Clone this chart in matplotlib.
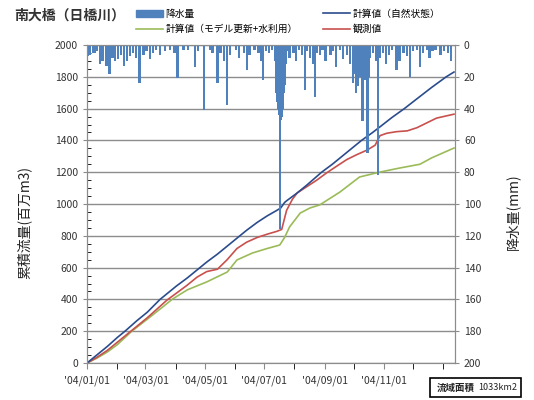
import matplotlib
matplotlib.use('Agg')
import matplotlib.pyplot as plt
import matplotlib.dates as mdates
from matplotlib.patches import Patch, Rectangle
from matplotlib.lines import Line2D
import pandas as pd

plt.rcParams['font.family'] = ['Noto Sans CJK JP', 'DejaVu Sans']

start = pd.Timestamp('2004-01-01')

# 累積流量 (百万m3), 日数は2004/1/1からの経過日
calc_nat_day = [0, 10, 21, 31, 39, 51, 62, 75, 82, 92, 103, 116, 123, 134, 144, 157, 164, 175,
                185, 195, 199, 203, 205, 216, 226, 241, 252, 262, 272, 282, 293, 303, 313, 326,
                339, 354, 369, 377]
calc_nat = [0, 50, 105, 160, 200, 265, 320, 400, 435, 485, 535, 600, 635, 685, 735, 800, 835, 885,
            925, 960, 975, 1010, 1020, 1070, 1120, 1200, 1250, 1300, 1350, 1400, 1448, 1495, 1543,
            1600, 1662, 1733, 1800, 1830]

obs_day = [0, 10, 21, 31, 41, 51, 62, 72, 82, 92, 103, 113, 123, 134, 144, 154, 164, 175, 185,
           195, 200, 205, 211, 216, 226, 236, 246, 257, 267, 277, 288, 296, 301, 308, 318, 329,
           339, 349, 359, 377]
obs = [0, 35, 80, 130, 180, 230, 285, 340, 395, 440, 490, 540, 575, 590, 650, 720, 760, 790, 810,
       828, 840, 960, 1030, 1070, 1110, 1150, 1195, 1240, 1280, 1310, 1340, 1370, 1430, 1445, 1455,
       1460, 1480, 1510, 1540, 1565]

calc_mod_day = [0, 10, 21, 31, 46, 67, 88, 103, 123, 144, 154, 170, 185, 198, 203, 208, 219, 229,
                239, 260, 280, 301, 321, 342, 354, 377]
calc_mod = [0, 30, 70, 115, 200, 300, 403, 460, 510, 572, 648, 692, 720, 742, 790, 855, 943, 975,
            994, 1076, 1170, 1201, 1226, 1250, 1290, 1352]

# 日降水量 (mm)
rain_day = [1, 3, 6, 8, 10, 13, 16, 20, 23, 26,
            29, 32, 35, 38, 41, 44, 47, 50, 54, 58,
            61, 65, 68, 71, 75, 80, 85, 90, 93, 99,
            104, 111, 114, 120, 126, 129, 134, 137, 141, 144,
            147, 153, 156, 161, 164, 167, 172, 176, 179, 181,
            184, 187, 190, 193, 194, 195, 196, 197, 198, 199,
            200, 201, 202, 203, 204, 205, 208, 212, 215, 218,
            221, 224, 226, 229, 232, 234, 236, 239, 242, 245,
            250, 253, 256, 260, 263, 267, 270, 273, 274, 276,
            278, 280, 283, 285, 288, 289, 291, 294, 297, 299,
            301, 304, 307, 310, 313, 318, 321, 325, 329, 332,
            335, 339, 342, 345, 349, 352, 355, 358, 363, 367,
            371, 374]
rain_mm = [7, 6, 5, 5, 4, 12, 10, 13, 18, 8,
           10, 9, 6, 13, 10, 7, 5, 8, 24, 6,
           4, 9, 5, 3, 6, 4, 3, 5, 21, 3,
           3, 14, 4, 41, 3, 5, 24, 5, 10, 38,
           6, 3, 8, 5, 16, 6, 3, 5, 10, 22,
           4, 5, 3, 10, 30, 36, 40, 44, 116, 47,
           45, 40, 30, 25, 12, 4, 8, 5, 10, 3,
           6, 28, 4, 8, 12, 33, 5, 6, 3, 10,
           6, 4, 14, 3, 9, 6, 12, 24, 18, 30,
           26, 20, 48, 22, 68, 20, 8, 5, 10, 82,
           8, 5, 12, 6, 3, 16, 10, 5, 7, 20,
           4, 3, 14, 5, 3, 8, 4, 3, 6, 4,
           5, 10]

to_dates = lambda days: [start + pd.Timedelta(days=d) for d in days]

fig = plt.figure(figsize=(5.34, 4.0), dpi=100)
ax = fig.add_axes([0.163, 0.0925, 0.689, 0.795])
ax2 = ax.twinx()

c_nat = '#2B4C8C'
c_obs = '#C8504D'
c_mod = '#9BBB59'
c_bar = '#4F81BD'

ax.plot(to_dates(calc_mod_day), calc_mod, color=c_mod, lw=1.2)
ax.plot(to_dates(obs_day), obs, color=c_obs, lw=1.2)
ax.plot(to_dates(calc_nat_day), calc_nat, color=c_nat, lw=1.2)

ax2.bar(to_dates(rain_day), rain_mm, width=2.4, color=c_bar, align='center')

# 軸の設定
ax.set_ylim(0, 2000)
ax.set_yticks(range(0, 2001, 200))
ax.set_yticks(range(0, 2001, 50), minor=True)
ax.set_xlim(start, pd.Timestamp('2005-01-13'))
ax.xaxis.set_major_locator(mdates.MonthLocator(bymonth=[1, 3, 5, 7, 9, 11]))
ax.xaxis.set_minor_locator(mdates.MonthLocator())
ax.xaxis.set_major_formatter(mdates.DateFormatter("'%y/%m/%d"))
ax.set_xticks([t for t in ax.get_xticks() if t < mdates.date2num(pd.Timestamp('2004-12-31'))])
ax.grid(axis='y', which='major', color='#8C8C8C', lw=1.0)
ax.set_axisbelow(True)

ax2.set_ylim(200, 0)
ax2.set_yticks(range(0, 201, 20))

for a in (ax, ax2):
    for s in a.spines.values():
        s.set_color('#8C8C8C')
    a.tick_params(labelsize=7.5, colors='#8C8C8C', labelcolor='#333333')

ax.tick_params(axis='x', which='both', direction='out', length=4, pad=5)
ax.tick_params(axis='y', which='major', direction='out', length=3)
ax.tick_params(axis='y', which='minor', direction='in', length=3)
ax2.tick_params(axis='y', direction='out', length=3)

ax.set_ylabel('累積流量(百万m3)', fontsize=10, color='#222222')
ax.yaxis.set_label_coords(-0.152, 0.443)
ax2.set_ylabel('降水量(mm)', fontsize=10, color='#222222')
ax2.yaxis.set_label_coords(1.136, 0.475)

fig.text(0.026, 0.962, '南大橋（日橋川）', fontsize=10, fontweight='bold', color='#333333',
         va='center')

# 凡例 (2列)
leg_kw = dict(loc='upper left', frameon=False, fontsize=7, handlelength=2.8,
              handletextpad=0.25, labelspacing=0.55, borderpad=0, borderaxespad=0)
leg1 = fig.legend([Patch(color=c_bar), Line2D([], [], color=c_mod, lw=1.2)],
                  ['降水量', '計算値（モデル更新+水利用）'],
                  bbox_to_anchor=(0.2547, 0.978), **leg_kw)
leg2 = fig.legend([Line2D([], [], color=c_nat, lw=1.2), Line2D([], [], color=c_obs, lw=1.2)],
                  ['計算値（自然状態）', '観測値'],
                  bbox_to_anchor=(0.605, 0.978), **leg_kw)

# 流域面積の枠
fig.patches.append(Rectangle((0.805, 0.0075), 0.17, 0.0475, transform=fig.transFigure,
                             fc='white', ec='black', lw=1.2))
fig.text(0.817, 0.031, '流域面積', fontsize=6.8, fontweight='bold', va='center', color='#222222')
fig.text(0.895, 0.031, '1033km2', fontsize=6.5, va='center', color='#222222')

fig.savefig('out.png', dpi=100)
